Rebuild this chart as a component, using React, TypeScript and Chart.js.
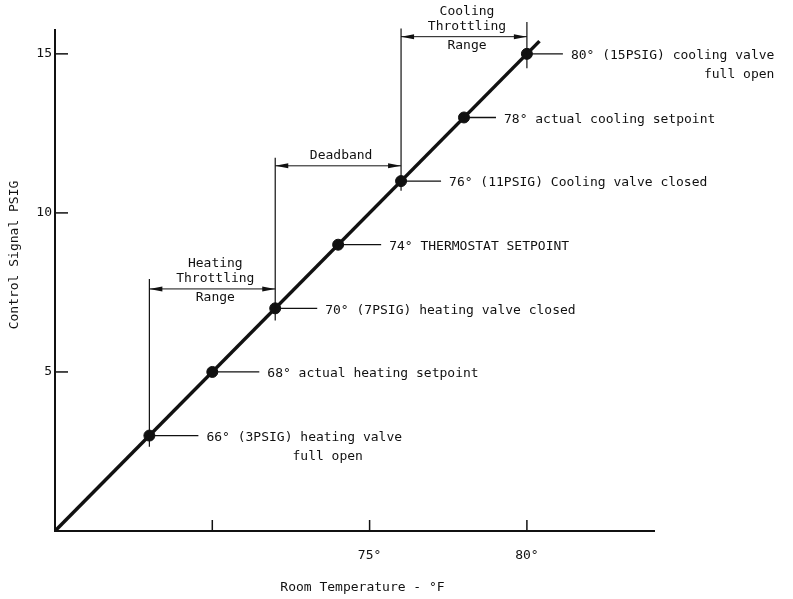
import React, { useEffect, useRef } from "react";
import { Chart, registerables } from "chart.js";

Chart.register(...registerables);

// ---- data (axis units: °F on x, PSIG on y) ----
const pointTemps = [68, 70, 72, 74, 76, 78, 80];
const pointSignals = [3, 5, 7, 9, 11, 13, 15];
const lineTemps = [65, 80.4];
const lineSignals = [0, 15.4];

const calloutText = [
  "66° (3PSIG) heating valve",
  "68° actual heating setpoint",
  "70° (7PSIG) heating valve closed",
  "74° THERMOSTAT SETPOINT",
  "76° (11PSIG) Cooling valve closed",
  "78° actual cooling setpoint",
  "80° (15PSIG) cooling valve",
];
const calloutSub = ["full open", "", "", "", "", "", "full open"];
const calloutSubIndent = [11, 0, 0, 0, 0, 0, 17];
const calloutGap = [57, 55, 50, 51, 48, 40, 44];

const xTickValues = [65, 70, 75, 80];
const xTickLabels = ["", "", "75°", "80°"];
const yTickValues = [0, 5, 10, 15];
const yTickLabels = ["", "5", "10", "15"];

const vlineTemps = [68, 72, 76, 80];
const vlineBottom = [2.65, 6.62, 10.7, 14.55];
const vlineTop = [7.92, 11.73, 15.8, 16.0];

const rangeFrom = [68, 72, 76];
const rangeTo = [72, 76, 80];
const rangeArrowY = [7.61, 11.48, 15.54];
const rangeAbove = [["Heating", "Throttling"], ["Deadband"], ["Cooling", "Throttling"]];
const rangeBelow = [["Range"], [], ["Range"]];

const xTitle = "Room Temperature - °F";
const yTitle = "Control Signal PSIG";

const INK = "#111";
const FAMILY = "'DejaVu Sans Mono', 'Liberation Mono', monospace";
const FONT = `13px ${FAMILY}`;

const annotations = {
  id: "annotations",
  afterDraw(chart: any) {
    const { ctx, chartArea } = chart;
    const xs = chart.scales.x;
    const ys = chart.scales.y;
    const px = (v: number) => xs.getPixelForValue(v);
    const py = (v: number) => ys.getPixelForValue(v);
    const seg = (x1: number, y1: number, x2: number, y2: number) => {
      ctx.beginPath();
      ctx.moveTo(x1, y1);
      ctx.lineTo(x2, y2);
      ctx.stroke();
    };
    ctx.save();
    ctx.strokeStyle = INK;
    ctx.fillStyle = INK;
    ctx.lineCap = "butt";

    // inward tick marks
    ctx.lineWidth = 1.5;
    xTickValues.slice(1).forEach((v) => seg(px(v), chartArea.bottom, px(v), chartArea.bottom - 11));
    yTickValues.slice(1).forEach((v) => seg(chartArea.left, py(v), chartArea.left + 13, py(v)));

    // vertical bracket lines
    ctx.lineWidth = 1.2;
    vlineTemps.forEach((t, i) => seg(px(t), py(vlineBottom[i]), px(t), py(vlineTop[i])));

    // range arrows and labels
    ctx.font = FONT;
    ctx.textAlign = "center";
    ctx.textBaseline = "middle";
    rangeFrom.forEach((f, i) => {
      const x1 = px(f);
      const x2 = px(rangeTo[i]);
      const y = py(rangeArrowY[i]);
      ctx.lineWidth = 1;
      seg(x1, y, x2, y);
      const head = (tip: number, dir: number) => {
        ctx.beginPath();
        ctx.moveTo(tip, y);
        ctx.lineTo(tip + dir * 13, y - 2.5);
        ctx.lineTo(tip + dir * 13, y + 2.5);
        ctx.closePath();
        ctx.fill();
      };
      head(x1, 1);
      head(x2, -1);
      const cx = (x1 + x2) / 2 + 3;
      const above = rangeAbove[i];
      above.forEach((txt, k) => {
        const fromBottom = above.length - 1 - k;
        ctx.fillText(txt, cx, y - 10 - fromBottom * 15);
      });
      rangeBelow[i].forEach((txt, k) => ctx.fillText(txt, cx, y + 9 + k * 15));
    });

    // callouts
    ctx.textAlign = "left";
    pointTemps.forEach((t, i) => {
      const x = px(t);
      const y = py(pointSignals[i]);
      const tx = x + calloutGap[i];
      ctx.lineWidth = 1.3;
      seg(x, y, tx - 8, y);
      ctx.fillText(calloutText[i], tx, y + 2);
      if (calloutSub[i]) {
        const indent = ctx.measureText("0".repeat(calloutSubIndent[i])).width;
        ctx.fillText(calloutSub[i], tx + indent, y + 21);
      }
    });

    // axis titles
    ctx.textAlign = "center";
    ctx.fillText(xTitle, (chartArea.left + chartArea.right) / 2 + 8, 588);
    ctx.save();
    ctx.translate(15, 255);
    ctx.rotate(-Math.PI / 2);
    ctx.fillText(yTitle, 0, 0);
    ctx.restore();

    ctx.restore();
  },
};

export default function App() {
  const ref = useRef<HTMLCanvasElement | null>(null);

  useEffect(() => {
    document.body.style.margin = "0";
    const canvas = ref.current;
    if (!canvas) return;
    const chart = new Chart(canvas, {
      type: "scatter",
      data: {
        datasets: [
          {
            type: "line",
            data: lineTemps.map((x, i) => ({ x, y: lineSignals[i] })),
            borderColor: INK,
            borderWidth: 3.5,
            pointRadius: 0,
            fill: false,
            tension: 0,
          } as any,
          {
            data: pointTemps.map((x, i) => ({ x, y: pointSignals[i] })),
            backgroundColor: INK,
            borderColor: INK,
            pointRadius: 5.5,
            showLine: false,
          },
        ],
      },
      options: {
        animation: false,
        responsive: false,
        maintainAspectRatio: false,
        layout: { padding: { top: 30, right: 139, bottom: 0, left: 0 } },
        plugins: { legend: { display: false }, tooltip: { enabled: false } },
        scales: {
          x: {
            type: "linear",
            min: 65,
            max: 84.04,
            grid: { display: false, drawTicks: false },
            border: { display: true, color: INK, width: 2 },
            ticks: {
              color: INK,
              font: { family: FAMILY, size: 13 },
              padding: 17,
              maxRotation: 0,
              autoSkip: false,
              callback: (v: any) => {
                const i = xTickValues.indexOf(Number(v));
                return i >= 0 ? xTickLabels[i] : "";
              },
            },
            afterBuildTicks: (s: any) => {
              s.ticks = xTickValues.map((value) => ({ value }));
            },
            afterFit: (s: any) => {
              s.height = 68;
            },
          },
          y: {
            type: "linear",
            min: 0,
            max: 15.75,
            grid: { display: false, drawTicks: false },
            border: { display: true, color: INK, width: 2 },
            ticks: {
              color: INK,
              font: { family: FAMILY, size: 13 },
              padding: 3,
              autoSkip: false,
              callback: (v: any) => {
                const i = yTickValues.indexOf(Number(v));
                return i >= 0 ? yTickLabels[i] : "";
              },
            },
            afterBuildTicks: (s: any) => {
              s.ticks = yTickValues.map((value) => ({ value }));
            },
            afterFit: (s: any) => {
              s.width = 55;
            },
          },
        },
      },
      plugins: [annotations],
    });
    return () => chart.destroy();
  }, []);

  return (
    <div style={{ width: 793, height: 599, background: "#fff" }}>
      <canvas ref={ref} width={793} height={599} style={{ display: "block" }} />
    </div>
  );
}
